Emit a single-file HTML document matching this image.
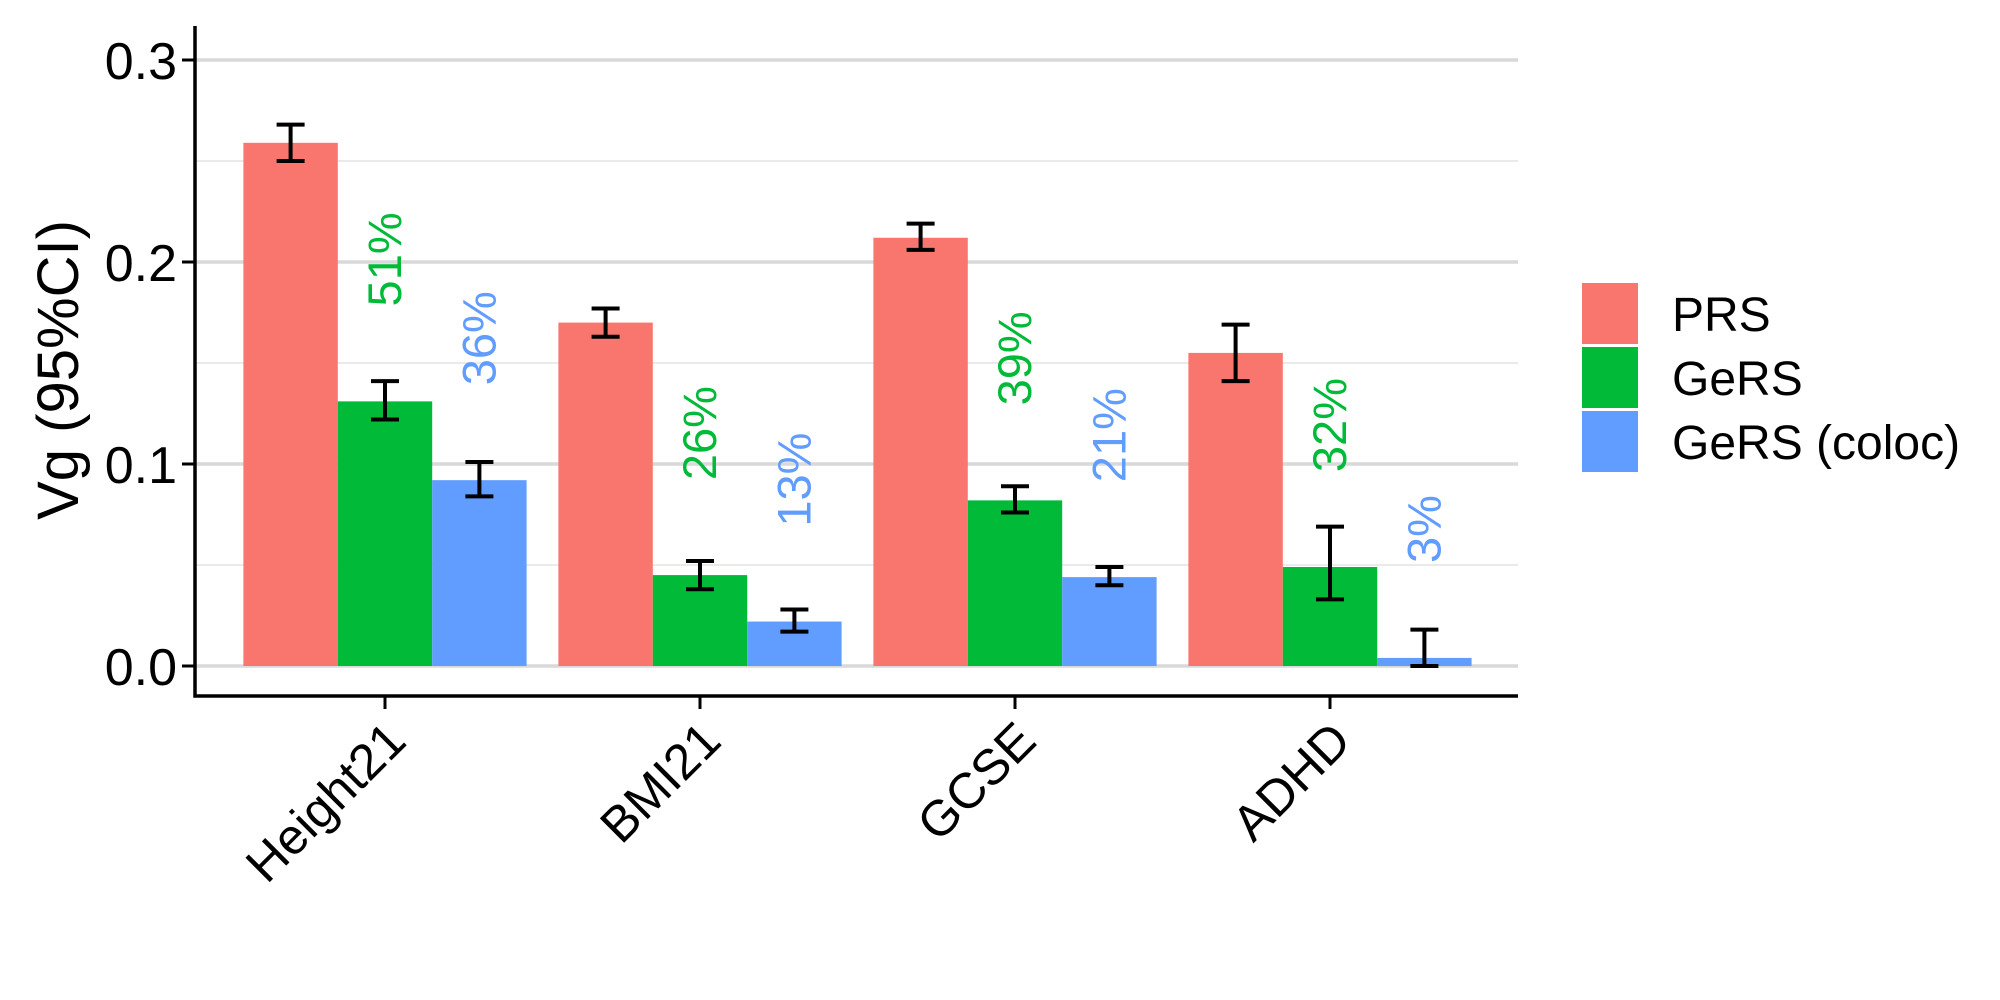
<!DOCTYPE html>
<html><head><meta charset="utf-8"><style>
html,body{margin:0;padding:0;background:#fff;}
svg{display:block;font-family:"Liberation Sans",sans-serif;}
</style></head><body>
<svg id="chart" width="2000" height="1000" viewBox="0 0 2000 1000"></svg>
<script>
const categories = ["Height21","BMI21","GCSE","ADHD"];
const seriesNames = ["PRS","GeRS","GeRS (coloc)"];
const prsValues = [0.259,0.170,0.212,0.155];
const prsLow = [0.250,0.163,0.206,0.141];
const prsHigh = [0.268,0.177,0.219,0.169];
const gersValues = [0.131,0.045,0.082,0.049];
const gersLow = [0.122,0.038,0.076,0.033];
const gersHigh = [0.141,0.052,0.089,0.069];
const colocValues = [0.092,0.022,0.044,0.004];
const colocLow = [0.084,0.017,0.040,0.000];
const colocHigh = [0.101,0.028,0.049,0.018];
const gersPct = ["51%","26%","39%","32%"];
const colocPct = ["36%","13%","21%","3%"];
const yTicks = [0.0,0.1,0.2,0.3];
const yMinor = [0.05,0.15,0.25];

const NS="http://www.w3.org/2000/svg";
const svg=document.getElementById('chart');
const colors=["#F8766D","#00BA38","#619CFF"];
const L=195,R=1518,T=26,B=696;
const y0=666,pxPer=2020;
const y=v=>y0-v*pxPer;
const x=i=>385+i*315;
const bw=94.4;
function mk(tag,attrs,parent){const e=document.createElementNS(NS,tag);for(const k in attrs)e.setAttribute(k,attrs[k]);(parent||svg).appendChild(e);return e;}

const grid=mk('g',{});


yMinor.forEach(v=>{const l=mk('line',{x1:L,x2:R,y1:y(v),y2:y(v),stroke:'#e3e3e3','stroke-width':1.5},grid);

});
yTicks.forEach(v=>{const l=mk('line',{x1:L,x2:R,y1:y(v),y2:y(v),stroke:'#d9d9d9','stroke-width':3.5},grid);

});

const vals=[prsValues,gersValues,colocValues],lows=[prsLow,gersLow,colocLow],highs=[prsHigh,gersHigh,colocHigh];
categories.forEach((c,i)=>{
  for(let s=0;s<3;s++){
    const cx=x(i)+(s-1)*bw;
    const r=mk('rect',{x:cx-bw/2,y:y(vals[s][i]),width:bw,height:y(0)-y(vals[s][i]),fill:colors[s]});
    
    
    const g=mk('g',{stroke:'#000','stroke-width':4});
    
    
    mk('line',{x1:cx,x2:cx,y1:y(lows[s][i]),y2:y(highs[s][i])},g);
    mk('line',{x1:cx-14,x2:cx+14,y1:y(lows[s][i]),y2:y(lows[s][i])},g);
    mk('line',{x1:cx-14,x2:cx+14,y1:y(highs[s][i]),y2:y(highs[s][i])},g);
  }
  [[gersPct,gersValues,1],[colocPct,colocValues,2]].forEach(([lab,v,s])=>{
    const cx=x(i)+(s-1)*bw+16, cy=y(v[i]+0.047);
    const t=mk('text',{x:cx,y:cy,fill:colors[s],'font-size':47,transform:`rotate(-90 ${cx} ${cy})`});
    t.textContent=lab[i];
    
    
  });
  const tk=mk('line',{x1:x(i),x2:x(i),y1:B,y2:B+13,stroke:'#000','stroke-width':3});
  
  
  const tx=x(i)-2,ty=718;
  const xl=mk('text',{x:tx,y:ty,'font-size':50,'text-anchor':'end','dominant-baseline':'hanging',transform:`rotate(-45 ${tx} ${ty})`});
  xl.textContent=c;
  
  
});

yTicks.forEach(v=>{
  const t=mk('line',{x1:L-13,x2:L,y1:y(v),y2:y(v),stroke:'#000','stroke-width':3});
  
  
  const l=mk('text',{x:L-18,y:y(v)+19,'font-size':52,'text-anchor':'end'});
  l.textContent=v.toFixed(1);
  
  
});
const ax=mk('path',{d:`M${L} ${T} V${B} H${R}`,fill:'none',stroke:'#000','stroke-width':3.5});


const yt=mk('text',{x:78,y:370,'font-size':58,'text-anchor':'middle',transform:'rotate(-90 78 370)'});
yt.textContent="Vg (95%CI)";



const lg=mk('g',{});


seriesNames.forEach((n,s)=>{
  const top=283+s*64;
  const k=mk('rect',{x:1582,y:top,width:56,height:61,fill:colors[s]},lg);
  
  
  const t=mk('text',{x:1672,y:top+48,'font-size':48},lg);
  t.textContent=n;
  
  
});
</script>
</body></html>
